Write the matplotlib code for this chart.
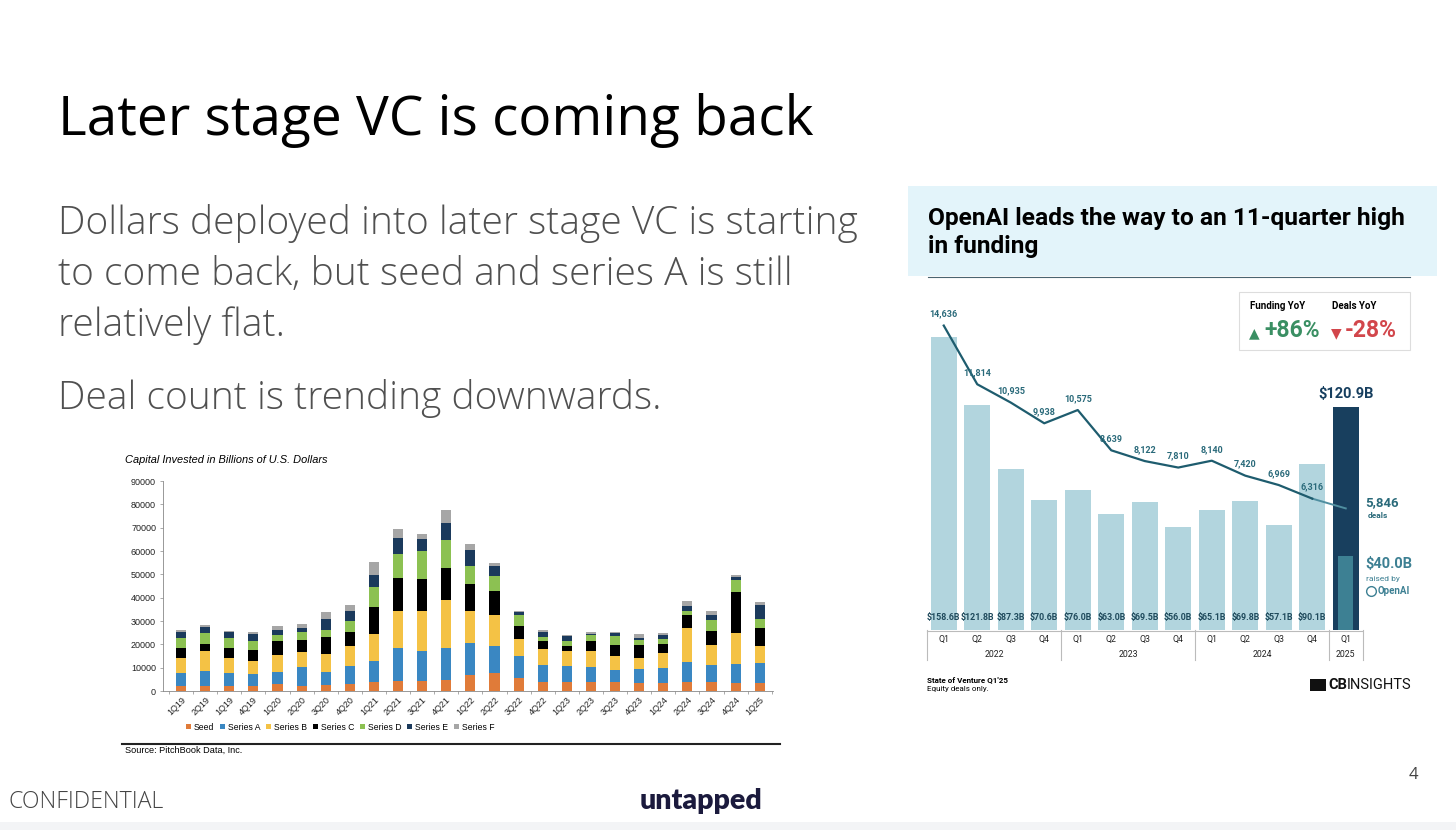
import matplotlib
matplotlib.use("Agg")
import matplotlib.pyplot as plt
import numpy as np
from matplotlib.patches import Rectangle, Patch
from matplotlib.lines import Line2D

# ---------------- data: left chart (PitchBook) ----------------
quarters = ["1Q19", "2Q19", "1Q19", "4Q19", "1Q20", "2Q20", "3Q20", "4Q20",
            "1Q21", "2Q21", "3Q21", "4Q21", "1Q22", "2Q22", "3Q22", "4Q22",
            "1Q23", "2Q23", "3Q23", "4Q23", "1Q24", "2Q24", "3Q24", "4Q24", "1Q25"]
seed     = [2300, 2000, 2100, 2300, 3000, 2300, 2400, 3000, 3700, 4200, 4400, 4900, 6900,
            7700, 5700, 3900, 3900, 3700, 3700, 3600, 3600, 3900, 3900, 3600, 3300]
series_a = [5400, 6500, 5600, 5100, 5300, 8200, 5900, 7700, 9300, 14100, 12900, 13700, 13700,
            11600, 9300, 7100, 6800, 6500, 5300, 5900, 6300, 8600, 7400, 7900, 8700]
series_b = [6600, 8500, 6600, 5600, 7000, 6400, 7700, 8400, 11600, 16200, 17100, 20400, 13900,
            13400, 7300, 7100, 6300, 6800, 6000, 4500, 6300, 14300, 8600, 13300, 7300]
series_c = [4300, 3000, 4300, 4500, 6000, 5000, 7200, 6400, 11600, 13900, 13600, 13600, 11300,
            10000, 5400, 3400, 2500, 4500, 4800, 5800, 4000, 5700, 5900, 17700, 7600]
series_d = [4300, 4900, 4300, 4100, 2600, 3600, 3000, 4700, 8400, 10300, 11900, 12000, 7900,
            6400, 4800, 1700, 2000, 2300, 3600, 2100, 2000, 1700, 4600, 5100, 4000]
series_e = [2300, 2700, 2200, 2800, 2200, 1300, 4600, 4300, 5100, 6800, 5300, 7200, 6600,
            4300, 1200, 2000, 2000, 600, 1500, 700, 1900, 2300, 2000, 1400, 6100]
series_f = [900, 900, 800, 700, 1700, 2100, 3000, 2200, 5700, 4000, 2000, 5900, 2500,
            1600, 700, 1000, 300, 1000, 500, 1900, 800, 1900, 1800, 700, 1100]
series_names = ["Seed", "Series A", "Series B", "Series C", "Series D", "Series E", "Series F"]
y_ticks_left = [0, 10000, 20000, 30000, 40000, 50000, 60000, 70000, 80000, 90000]

# ---------------- data: right chart (CB Insights) ----------------
q_labels = ["Q1", "Q2", "Q3", "Q4", "Q1", "Q2", "Q3", "Q4", "Q1", "Q2", "Q3", "Q4", "Q1"]
years = ["2022", "2023", "2024", "2025"]
funding = [158.6, 121.8, 87.3, 70.6, 76.0, 63.0, 69.5, 56.0, 65.1, 69.8, 57.1, 90.1, 120.9]
deals = [14636, 11814, 10935, 9938, 10575, 8639, 8122, 7810, 8140, 7420, 6969, 6316, 5846]
openai_funding = 40.0

W, H = 1456, 830
fig = plt.figure(figsize=(W / 100, H / 100), dpi=100)
fig.patch.set_facecolor("white")
renderer = fig.canvas.get_renderer()

def fx(px):
    return px / W

def fy(py):
    return 1 - py / H

def axrect(l, t, r, b):
    return [fx(l), fy(b), fx(r) - fx(l), fy(t) - fy(b)]

def fit_size(s, target_px, **kw):
    t = fig.text(0, 0, s, fontsize=20, **kw)
    w = t.get_window_extent(renderer).width
    t.remove()
    return 20 * target_px / w

# ---------------- slide text ----------------
sfont = "Open Sans"
ts = fit_size("Later stage VC is coming back", 754, family=sfont)
fig.text(fx(58), fy(135), "Later stage VC is coming back", fontsize=ts, family=sfont,
         color="black", va="baseline", ha="left")
body_color = "#505050"
bs = fit_size("Dollars deployed into later stage VC is starting", 799, family=sfont,
              fontweight="light")
for txt, yb in [("Dollars deployed into later stage VC is starting", 234),
                ("to come back, but seed and series A is still", 285),
                ("relatively flat.", 336),
                ("Deal count is trending downwards.", 409)]:
    fig.text(fx(58), fy(yb), txt, fontsize=bs, family=sfont, fontweight="light",
             color=body_color, va="baseline", ha="left")

cs = fit_size("CONFIDENTIAL", 154, family=sfont, fontweight="light")
fig.text(fx(8), fy(802), "CONFIDENTIAL", fontsize=cs, family=sfont, fontweight="light",
         color="#444444", va="center", ha="left")
us = fit_size("untapped", 123, family="Lato", fontweight="heavy")
fig.text(fx(701), fy(801), "untapped", fontsize=us, family="Lato", fontweight="heavy",
         color="#1b1a3d", va="center", ha="center")
fig.text(fx(1413), fy(775), "4", fontsize=12, family=sfont, color="#444444",
         va="center", ha="center")
fig.patches.append(Rectangle((0, 0), 1, fy(822), transform=fig.transFigure,
                             facecolor="#f3f4f6", edgecolor="none", zorder=0))

# ---------------- left chart ----------------
lfont = "Liberation Sans"
colors_left = ["#e07b39", "#3a87c2", "#f4c245", "#000000", "#8cc152", "#1b3a5c", "#a6a6a6"]
axL = fig.add_axes(axrect(163, 481, 773, 691))
x = np.arange(len(quarters))
stack = [seed, series_a, series_b, series_c, series_d, series_e, series_f]
bottom = np.zeros(len(quarters))
for vals, c in zip(stack, colors_left):
    axL.bar(x, vals, bottom=bottom, width=0.42, color=c, edgecolor="none")
    bottom = bottom + np.array(vals)
axL.set_ylim(0, 90000)
axL.set_xlim(-0.75, len(quarters) - 0.45)
axL.set_yticks(y_ticks_left)
axL.set_yticklabels([str(v) for v in y_ticks_left], fontsize=6.5, family=lfont,
                    color="#222222")
axL.set_xticks(x)
axL.set_xticklabels(quarters, rotation=45, ha="right", rotation_mode="anchor",
                    fontsize=6.5, family=lfont, color="#222222")
axL.tick_params(axis="x", length=0, pad=3)
axL.tick_params(axis="y", length=2, width=0.5, pad=3, color="#888888")
axL.set_xticks(np.arange(-0.5, len(quarters), 1), minor=True)
axL.tick_params(axis="x", which="minor", length=2, width=0.5, color="#888888")
for s in ["top", "right"]:
    axL.spines[s].set_visible(False)
for s in ["left", "bottom"]:
    axL.spines[s].set_linewidth(0.6)
    axL.spines[s].set_color("#888888")

fig.text(fx(125), fy(460), "Capital Invested in Billions of U.S. Dollars", fontsize=7.9,
         family=lfont, style="italic", va="center", ha="left")
handles = [Patch(facecolor=c, edgecolor="none", label=n) for c, n in zip(colors_left, series_names)]
fig.legend(handles=handles, loc="center", bbox_to_anchor=(fx(340), fy(727)), ncol=7,
           frameon=False, prop={"family": lfont, "size": 6.2}, handlelength=0.6,
           handleheight=0.6, columnspacing=0.7, handletextpad=0.3)
fig.lines.append(Line2D([fx(122), fx(780)], [fy(744), fy(744)], transform=fig.transFigure,
                        color="#222222", linewidth=1.5))
fig.text(fx(125), fy(750), "Source: PitchBook Data, Inc.", fontsize=6.6, family=lfont,
         va="center", ha="left")

# ---------------- right chart ----------------
rfont = ["Roboto", "DejaVu Sans"]
fig.patches.append(Rectangle((fx(908), fy(276)), fx(1437) - fx(908), fy(186) - fy(276),
                             transform=fig.transFigure, facecolor="#e3f4fa",
                             edgecolor="none", zorder=0))
rts = fit_size("OpenAI leads the way to an 11-quarter high", 475, family=rfont,
               fontweight="bold")
fig.text(fx(928), fy(218), "OpenAI leads the way to an 11-quarter high", fontsize=rts,
         family=rfont, fontweight="bold", va="center", ha="left")
fig.text(fx(928), fy(246), "in funding", fontsize=rts, family=rfont, fontweight="bold",
         va="center", ha="left")
fig.lines.append(Line2D([fx(928), fx(1410)], [fy(277), fy(277)], transform=fig.transFigure,
                        color="#4a6470", linewidth=0.8))

axR = fig.add_axes(axrect(927, 290, 1362.5, 630))
xr = np.arange(len(funding))
bar_colors = ["#b2d5de"] * (len(funding) - 1) + ["#183f5e"]
axR.bar(xr, funding, width=0.78, color=bar_colors, edgecolor="none", zorder=1)
axR.bar(xr[-1], openai_funding, width=0.44, color="#3d8093", edgecolor="none", zorder=2)
axR.set_xlim(-0.5, len(funding) - 0.5)
axR.set_ylim(0, 184.1)
axR.axis("off")
for i, v in enumerate(funding[:-1]):
    axR.text(i, 4.5, f"${v:.1f}B", fontsize=6.4, family=rfont, fontweight="bold",
             color="#1f4a5c", ha="center", va="bottom", zorder=3)
axR.text(xr[-1], funding[-1] + 3, f"${funding[-1]:.1f}B", fontsize=10.5, family=rfont,
         fontweight="bold", color="#173f5f", ha="center", va="bottom")

axD = axR.twinx()
axD.set_ylim(0, 16346)
axD.set_xlim(-0.5, len(funding) - 0.5)
axD.axis("off")
line_col = "#1e5c6e"
axD.plot(xr[:-1], deals[:-1], color=line_col, linewidth=1.6, zorder=5)
axD.plot(xr[-2:], deals[-2:], color="#4f8ea0", linewidth=1.4, zorder=4)
for i, v in enumerate(deals[:-1]):
    axD.annotate(f"{v:,}", (i, v), xytext=(0, 5), textcoords="offset points",
                 fontsize=6.5, family=rfont, fontweight="bold", color="#2a6a7a",
                 ha="center", va="bottom", zorder=6)
fig.text(fx(1365), fy(503), f"{deals[-1]:,}", fontsize=9.5, family=rfont, fontweight="bold",
         color="#2a6a7a", ha="left", va="center")
fig.text(fx(1368), fy(515), "deals", fontsize=6, family=rfont, fontweight="bold",
         color="#2a6a7a", ha="left", va="center")
fig.text(fx(1365), fy(564), f"${openai_funding:.1f}B", fontsize=10.5, family=rfont,
         fontweight="bold", color="#3d8093", ha="left", va="center")
fig.text(fx(1366), fy(579), "raised by", fontsize=6, family=rfont, color="#3d8093",
         ha="left", va="center")
fig.lines.append(Line2D([fx(1371)], [fy(591)], transform=fig.transFigure, marker="o",
                        markersize=7, markerfacecolor="none", markeredgecolor="#3d8093",
                        markeredgewidth=1.0, linestyle="none"))
fig.text(fx(1378), fy(591), "OpenAI", fontsize=7, family=rfont, fontweight="bold",
         color="#3d8093", ha="left", va="center")

# category table below bars
tcol = "#bbbbbb"
fig.lines.append(Line2D([fx(927), fx(1362)], [fy(631), fy(631)], transform=fig.transFigure,
                        color=tcol, linewidth=0.8))
for bx in [-0.5, 3.5, 7.5, 11.5, 12.5]:
    axR.plot([bx, bx], [0, -16], color=tcol, linewidth=0.8, clip_on=False)
for i, q in enumerate(q_labels):
    axR.text(i, -5.4, q, fontsize=6.3, family=rfont, color="#222222", ha="center", va="center")
for xc, yr in zip([1.5, 5.5, 9.5, 12], years):
    axR.text(xc, -13, yr, fontsize=6.3, family=rfont, color="#222222", ha="center", va="center")

# YoY box
fig.patches.append(Rectangle((fx(1239), fy(350)), fx(1410) - fx(1239), fy(292) - fy(350),
                             transform=fig.transFigure, facecolor="white",
                             edgecolor="#dddddd", linewidth=0.8))
fig.text(fx(1250), fy(306), "Funding YoY", fontsize=7, family=rfont, fontweight="bold",
         ha="left", va="center")
fig.text(fx(1332), fy(306), "Deals YoY", fontsize=7, family=rfont, fontweight="bold",
         ha="left", va="center")
fig.text(fx(1249), fy(333), "\u25b2", fontsize=10, family=["DejaVu Sans"], color="#3a8f63",
         ha="left", va="center")
fig.text(fx(1264), fy(330), "+86%", fontsize=16.5, family=rfont, fontweight="bold",
         color="#3a8f63", ha="left", va="center")
fig.text(fx(1331), fy(333), "\u25bc", fontsize=10, family=["DejaVu Sans"], color="#d2464b",
         ha="left", va="center")
fig.text(fx(1345), fy(330), "-28%", fontsize=16.5, family=rfont, fontweight="bold",
         color="#d2464b", ha="left", va="center")

fig.text(fx(927), fy(680), "State of Venture Q1'25", fontsize=5.8, family=rfont,
         fontweight="bold", ha="left", va="center")
fig.text(fx(927), fy(689), "Equity deals only.", fontsize=5.8, family=rfont,
         ha="left", va="center")
fig.patches.append(Rectangle((fx(1310), fy(691)), fx(1326) - fx(1310), fy(679) - fy(691),
                             transform=fig.transFigure, facecolor="#111111", edgecolor="none"))
fig.text(fx(1328), fy(685), "CB", fontsize=10.5, family=rfont, fontweight="bold",
         ha="left", va="center", color="#111111")
fig.text(fx(1347), fy(685), "INSIGHTS", fontsize=10.5, family=rfont,
         ha="left", va="center", color="#111111")

fig.savefig("out.png", dpi=100, facecolor="white")
